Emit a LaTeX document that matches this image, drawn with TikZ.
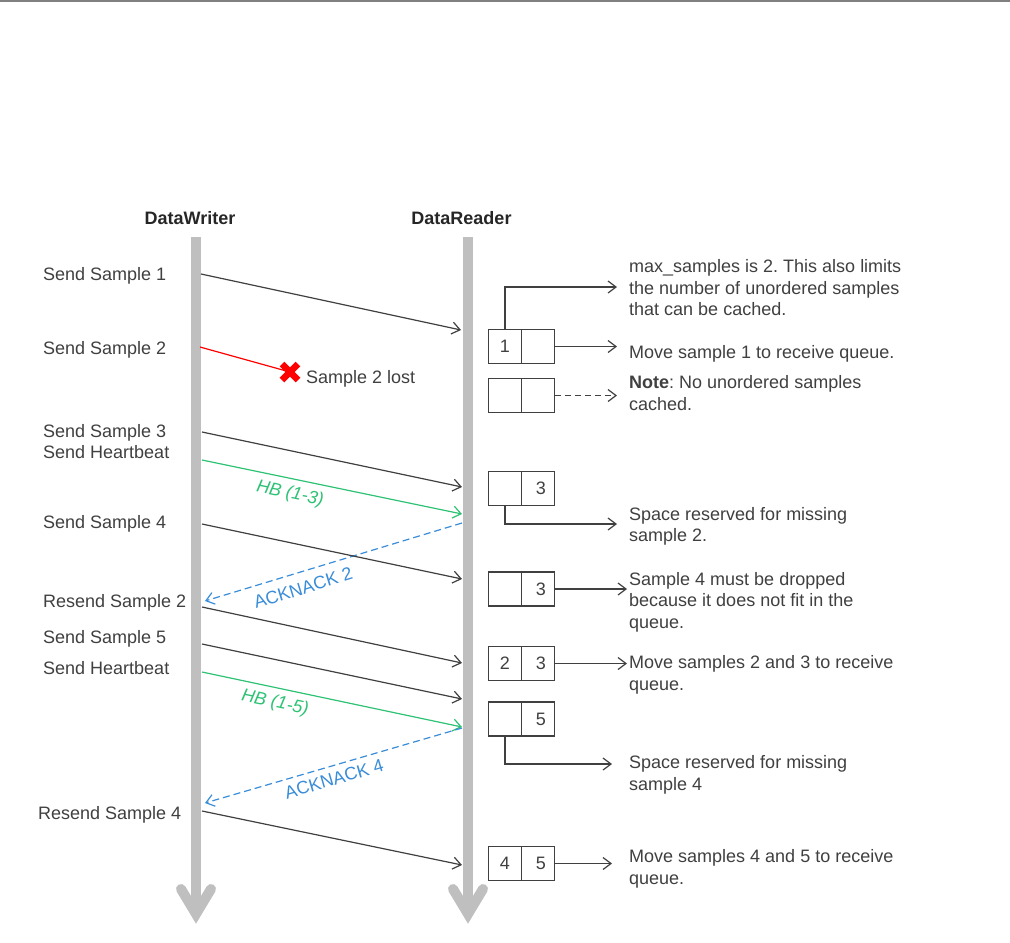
\documentclass[tikz,border=0pt]{standalone}
\usepackage{fontspec}
\setmainfont{Liberation Sans}
\usetikzlibrary{arrows.meta,calc}
\definecolor{ink}{RGB}{64,64,64}
\definecolor{life}{RGB}{191,191,191}
\definecolor{hbgreen}{RGB}{46,194,117}
\definecolor{ackblue}{RGB}{58,141,216}
\definecolor{topline}{RGB}{128,128,128}
\definecolor{lostred}{RGB}{255,0,0}
\newcommand{\mlines}[1]{\begin{tabular}[t]{@{}l@{}}#1\end{tabular}}
\frenchspacing
\begin{document}
\begin{tikzpicture}[x=1pt,y=-1pt,
  every node/.style={font=\fontsize{18}{21.5}\selectfont, text=ink},
  tip/.style={-{Straight Barb[length=8pt,width=12pt]}},
  msg/.style={draw=ink, line width=1.2pt, tip},
  lifeline/.style={draw=life, line width=9.5pt},
  chevron/.style={draw=life, line width=10pt, line cap=round, line join=miter},
  leftlabel/.style={anchor=base west, inner sep=0pt},
  note/.style={anchor=base west, inner sep=0pt},
  cell/.style={draw=ink, line width=1.2pt, minimum width=33pt, minimum height=34pt, inner sep=0pt},
  conn/.style={draw=ink, line width=1.2pt, tip},
  title/.style={font=\bfseries\fontsize{18}{21.5}\selectfont, text=black!85, anchor=base, inner sep=0pt},
  hb/.style={draw=hbgreen, line width=1.2pt, tip},
  hblabel/.style={text=hbgreen, font=\itshape\fontsize{18}{21.5}\selectfont, inner sep=0pt},
  ack/.style={draw=ackblue, line width=1.2pt, dash pattern=on 7pt off 4pt, tip},
  acklabel/.style={text=ackblue, inner sep=0pt},
  lostx/.style={draw=lostred, line width=6.5pt},
]
\useasboundingbox (0,0) rectangle (1010,943);
\fill[white] (0,0) rectangle (1010,943);
% top rule
\draw[topline, line width=2pt] (0,1) -- (1010,1);

% lifelines
\coordinate (wtop) at (196,237);
\coordinate (wend) at (196,912);
\coordinate (rtop) at (468,237);
\coordinate (rend) at (468,912);
\draw[lifeline] (wtop) -- (wend);
\draw[lifeline] (rtop) -- (rend);
\draw[chevron] (181,889) -- (196,914) -- (211,889);
\draw[chevron] (453,889) -- (468,914) -- (483,889);

% titles
\node[title] (dw) at (190,224) {DataWriter};
\node[title] (dr) at (461.5,224) {DataReader};

% left labels
\node[leftlabel] (l1) at (43,280) {Send Sample 1};
\node[leftlabel] (l2) at (43,354) {Send Sample 2};
\node[leftlabel] (l3) at (43,437) {Send Sample 3};
\node[leftlabel] (l4) at (43,458.5) {Send Heartbeat};
\node[leftlabel] (l5) at (43,528) {Send Sample 4};
\node[leftlabel] (l6) at (43,607) {Resend Sample 2};
\node[leftlabel] (l7) at (43,643) {Send Sample 5};
\node[leftlabel] (l8) at (43,674) {Send Heartbeat};
\node[leftlabel] (l9) at (38,819) {Resend Sample 4};

% message endpoints
\coordinate (w1) at (201,274);   \coordinate (r1) at (461,330);
\coordinate (w2) at (200,347);   \coordinate (x2) at (290,372);
\coordinate (w3) at (202,432);   \coordinate (r3) at (462,487);
\coordinate (w4) at (202,460);   \coordinate (r4) at (462,514);
\coordinate (r5) at (462,523);   \coordinate (w5) at (205,601);
\coordinate (w6) at (202,524);   \coordinate (r6) at (462,579);
\coordinate (w7) at (202,607);   \coordinate (r7) at (462,663);
\coordinate (w8) at (202,644);   \coordinate (r8) at (462,699);
\coordinate (w9) at (202,672);   \coordinate (r9) at (462,727);
\coordinate (r10) at (462,728);  \coordinate (w10) at (205,803);
\coordinate (w11) at (202,811);  \coordinate (r11) at (462,865);

% messages
\draw[msg] (w1) -- (r1);
\draw[draw=lostred, line width=1.2pt] (w2) -- (x2);
\draw[lostx] ($(x2)+(-8,-8)$) -- ($(x2)+(8,8)$);
\draw[lostx] ($(x2)+(-8,8)$) -- ($(x2)+(8,-8)$);
\draw[msg] (w3) -- (r3);
\draw[hb] (w4) -- (r4);
\draw[ack] (r5) -- (w5);
\draw[msg] (w6) -- (r6);
\draw[msg] (w7) -- (r7);
\draw[msg] (w8) -- (r8);
\draw[hb] (w9) -- (r9);
\draw[ack] (r10) -- (w10);
\draw[msg] (w11) -- (r11);

\node[leftlabel] (lost) at (306,383) {Sample 2 lost};
\node[hblabel, rotate=-11.7] (hb1) at (290,494) {HB (1-3)};
\node[acklabel, rotate=17] (ak2) at (303,588) {ACKNACK 2};
\node[hblabel, rotate=-11.9] (hb2) at (275,703) {HB (1-5)};
\node[acklabel, rotate=16.4] (ak4) at (334,779) {ACKNACK 4};

% queue boxes
\node[cell] (b1a) at (505,346.5) {1};
\node[cell] (b1b) at (538,346.5) {};
\node[cell] (b2a) at (505,395.5) {};
\node[cell] (b2b) at (538,395.5) {};
\node[cell] (b3a) at (505,488.5) {};
\node[cell] (b3b) at (538,488.5) {\hspace*{6pt}3};
\node[cell] (b4a) at (505,589) {};
\node[cell] (b4b) at (538,589) {\hspace*{6pt}3};
\node[cell] (b5a) at (505,663.5) {2};
\node[cell] (b5b) at (538,663.5) {\hspace*{6pt}3};
\node[cell] (b6a) at (505,719) {};
\node[cell] (b6b) at (538,719) {\hspace*{6pt}5};
\node[cell] (b7a) at (505,863.5) {4};
\node[cell] (b7b) at (538,863.5) {\hspace*{6pt}5};

% notes
\node[note] (n1) at (629,272.5) {\mlines{max\_samples is 2. This also limits\\the number of unordered samples\\that can be cached.}};
\node[note] (n2) at (629,358) {Move sample 1 to receive queue.};
\node[note] (n3) at (629,388.5) {\mlines{\textbf{Note}: No unordered samples\\cached.}};
\node[note] (n4) at (629,520) {\mlines{Space reserved for missing\\sample 2.}};
\node[note] (n5) at (629,585) {\mlines{Sample 4 must be dropped\\because it does not fit in the\\queue.}};
\node[note] (n6) at (629,668.5) {\mlines{Move samples 2 and 3 to receive\\queue.}};
\node[note] (n7) at (629,768.5) {\mlines{Space reserved for missing\\sample 4}};
\node[note] (n8) at (629,862.5) {\mlines{Move samples 4 and 5 to receive\\queue.}};

% connector ends
\coordinate (c1) at (617,287);
\coordinate (c2) at (617,346.5);
\coordinate (c3) at (617,395.5);
\coordinate (c4) at (617,524);
\coordinate (c5) at (627,589);
\coordinate (c6) at (627,663.5);
\coordinate (c7) at (612,764);
\coordinate (c8) at (612,863.5);

\draw[conn] (b1a.north) |- (c1);
\draw[conn] (b1b.east) -- (c2);
\draw[conn, dash pattern=on 6pt off 4pt] (b2b.east) -- (c3);
\draw[conn] (b3a.south) |- (c4);
\draw[conn] (b4b.east) -- (c5);
\draw[conn] (b5b.east) -- (c6);
\draw[conn] (b6a.south) |- (c7);
\draw[conn] (b7b.east) -- (c8);
\end{tikzpicture}
\end{document}
